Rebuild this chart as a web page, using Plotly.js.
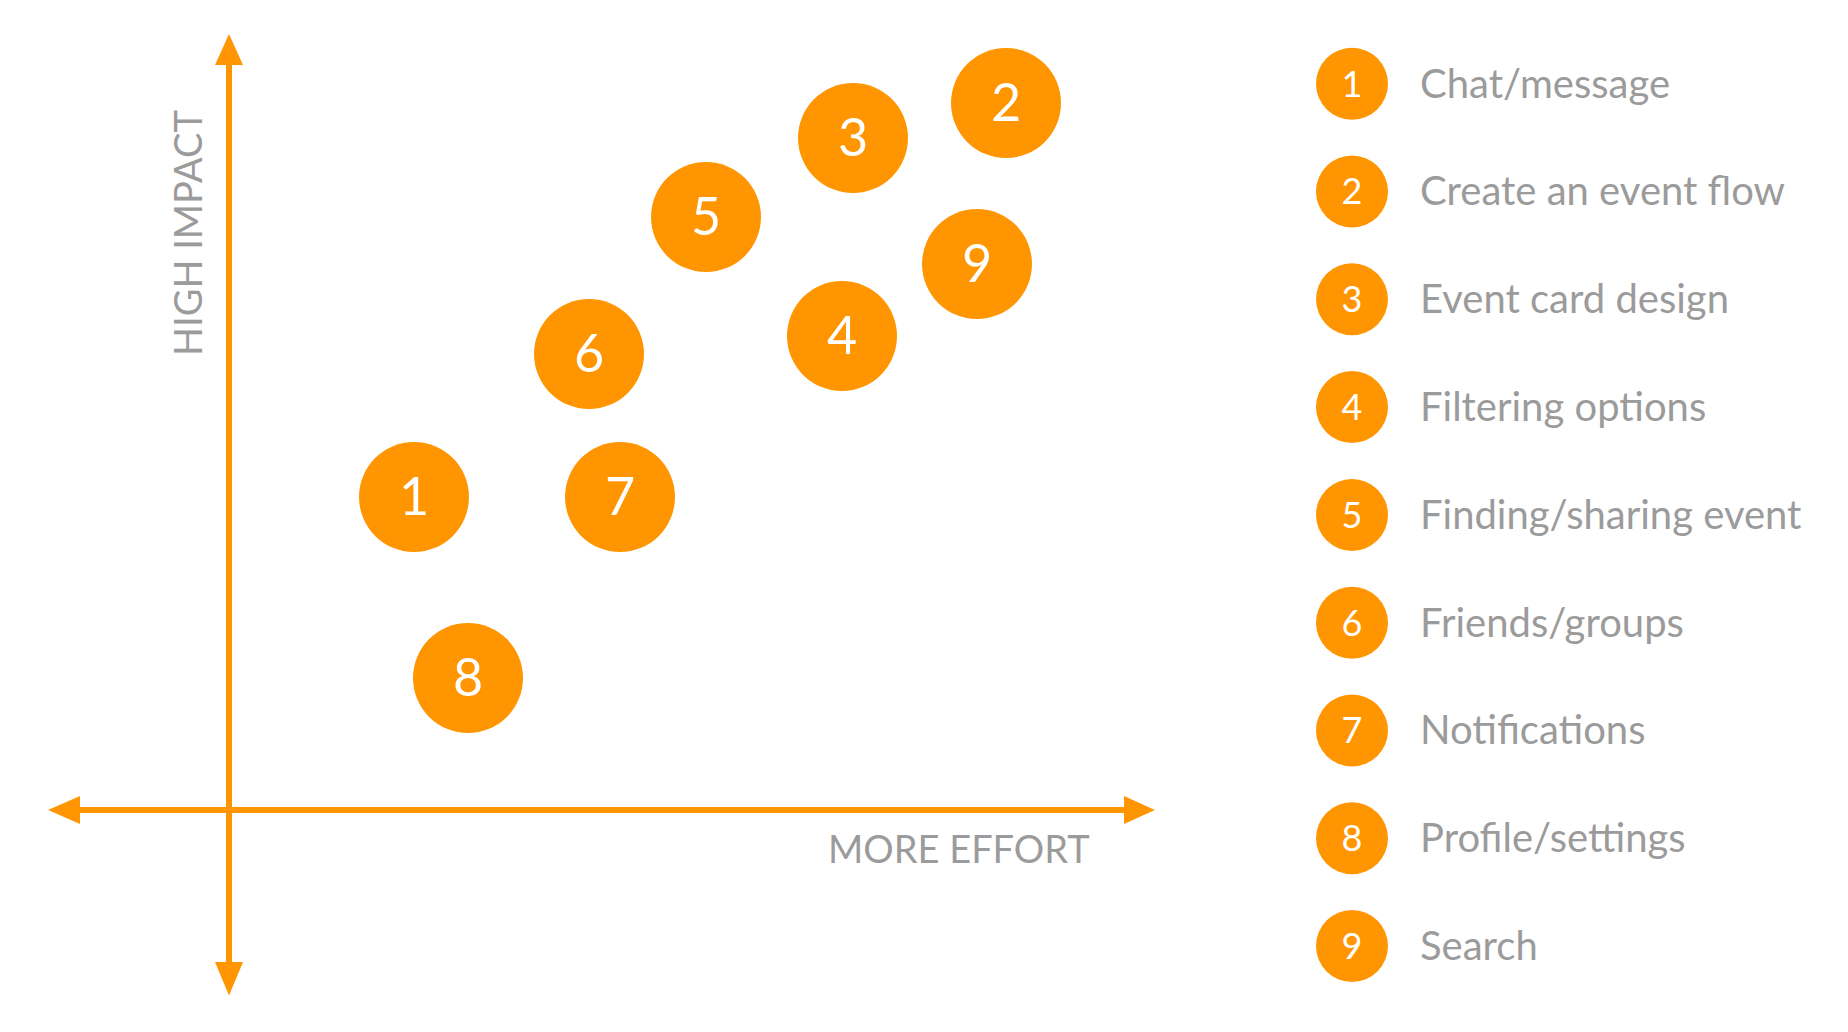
<!DOCTYPE html>
<html>
<head>
<meta charset="utf-8">
<script src="https://cdn.plot.ly/plotly-3.0.1.min.js"></script>
<style>
  html, body { margin: 0; padding: 0; background: #ffffff; }
  #chart { width: 1848px; height: 1032px; }
</style>
</head>
<body>
<div id="chart"></div>
<script>
// ---- Data ----
const ids = ["1", "2", "3", "4", "5", "6", "7", "8", "9"];
const features = ["Chat/message", "Create an event flow", "Event card design", "Filtering options",
                  "Finding/sharing event", "Friends/groups", "Notifications", "Profile/settings", "Search"];
const effort = [1.85, 7.77, 6.24, 6.13, 4.77, 3.60, 3.91, 2.39, 7.48];
const impact = [3.13, 7.07, 6.72, 4.74, 5.93, 4.56, 3.13, 1.32, 5.46];
const legendOrder = [1, 2, 3, 4, 5, 6, 7, 8, 9];

const xAxisTitle = "MORE EFFORT";
const yAxisTitle = "HIGH IMPACT";

// ---- Styles ----
const ORANGE = "#FF9500";
const GRAY = "#9B9B9B";
const FONT = "Lato, 'Open Sans', sans-serif";

// axis extents (data units)
const XMIN = -1.49, XMAX = 8.95, XTIPL = -1.81, XTIPR = 9.26;
const YMIN = -1.52, YMAX = 7.45, YTIPB = -1.855, YTIPT = 7.76;
const HW = 0.14;

// main axes ranges; text axes are nudged a few pixels to centre glyphs optically
const XR = [-2.29, 16.19], YR = [-2.22, 8.10];
const YR_TXT = [YR[0] + 0.05, YR[1] + 0.05];
const XR2 = [-13.52, 4.96], YR2 = [9.797, 0.2236];
const YR2_TXT = [YR2[0] - 0.037, YR2[1] - 0.037];

const bubbles = {
  type: "scatter", mode: "markers",
  x: effort, y: impact,
  marker: { size: 110, color: ORANGE, line: { width: 0 } },
  hoverinfo: "skip", showlegend: false, cliponaxis: false,
  xaxis: "x", yaxis: "y"
};
const bubbleText = {
  type: "scatter", mode: "text",
  x: effort, y: impact, text: ids,
  textposition: "middle center",
  textfont: { family: FONT, size: 52, color: "#ffffff" },
  hoverinfo: "skip", showlegend: false, cliponaxis: false,
  xaxis: "x", yaxis: "y3"
};

const legendDots = {
  type: "scatter", mode: "markers",
  x: legendOrder.map(() => 0), y: legendOrder,
  marker: { size: 72, color: ORANGE, line: { width: 0 } },
  hoverinfo: "skip", showlegend: false, cliponaxis: false,
  xaxis: "x2", yaxis: "y2"
};
const legendDigits = {
  type: "scatter", mode: "text",
  x: legendOrder.map(() => 0), y: legendOrder, text: ids,
  textposition: "middle center",
  textfont: { family: FONT, size: 36, color: "#ffffff" },
  hoverinfo: "skip", showlegend: false, cliponaxis: false,
  xaxis: "x2", yaxis: "y4"
};
const legendLabels = {
  type: "scatter", mode: "text",
  x: legendOrder.map(() => 0.68), y: legendOrder, text: features,
  textposition: "middle right",
  textfont: { family: FONT, size: 40, color: GRAY },
  hoverinfo: "skip", showlegend: false, cliponaxis: false,
  xaxis: "x2", yaxis: "y4"
};

const shapes = [
  { type: "line", xref: "x", yref: "y", x0: XMIN, x1: XMAX, y0: 0, y1: 0, line: { color: ORANGE, width: 6 } },
  { type: "line", xref: "x", yref: "y", x0: 0, x1: 0, y0: YMIN, y1: YMAX, line: { color: ORANGE, width: 6 } },
  { type: "path", xref: "x", yref: "y", fillcolor: ORANGE, line: { width: 0 },
    path: `M ${XTIPR} 0 L ${XMAX} ${HW} L ${XMAX} ${-HW} Z` },
  { type: "path", xref: "x", yref: "y", fillcolor: ORANGE, line: { width: 0 },
    path: `M ${XTIPL} 0 L ${XMIN} ${HW} L ${XMIN} ${-HW} Z` },
  { type: "path", xref: "x", yref: "y", fillcolor: ORANGE, line: { width: 0 },
    path: `M 0 ${YTIPT} L ${HW} ${YMAX} L ${-HW} ${YMAX} Z` },
  { type: "path", xref: "x", yref: "y", fillcolor: ORANGE, line: { width: 0 },
    path: `M 0 ${YTIPB} L ${HW} ${YMIN} L ${-HW} ${YMIN} Z` }
];

const annotations = [
  { xref: "x", yref: "y", x: 7.30, y: -0.38, text: xAxisTitle, showarrow: false,
    xanchor: "center", yanchor: "middle", font: { family: FONT, size: 38, color: GRAY } },
  { xref: "x", yref: "y", x: -0.42, y: 5.77, text: yAxisTitle, showarrow: false, textangle: -90,
    xanchor: "center", yanchor: "middle", font: { family: FONT, size: 38, color: GRAY } }
];

const layout = {
  width: 1848, height: 1032,
  margin: { l: 0, r: 0, t: 0, b: 0, pad: 0 },
  paper_bgcolor: "#ffffff", plot_bgcolor: "#ffffff",
  showlegend: false,
  xaxis: { range: XR, visible: false, fixedrange: true },
  yaxis: { range: YR, visible: false, fixedrange: true },
  yaxis3: { range: YR_TXT, overlaying: "y", visible: false, fixedrange: true },
  xaxis2: { range: XR2, overlaying: "x", visible: false, fixedrange: true },
  yaxis2: { range: YR2, overlaying: "y", visible: false, fixedrange: true },
  yaxis4: { range: YR2_TXT, overlaying: "y", visible: false, fixedrange: true },
  shapes: shapes,
  annotations: annotations,
  hovermode: false
};

Plotly.newPlot("chart", [bubbles, bubbleText, legendDots, legendDigits, legendLabels], layout,
  { displayModeBar: false, staticPlot: true });
</script>
</body>
</html>
